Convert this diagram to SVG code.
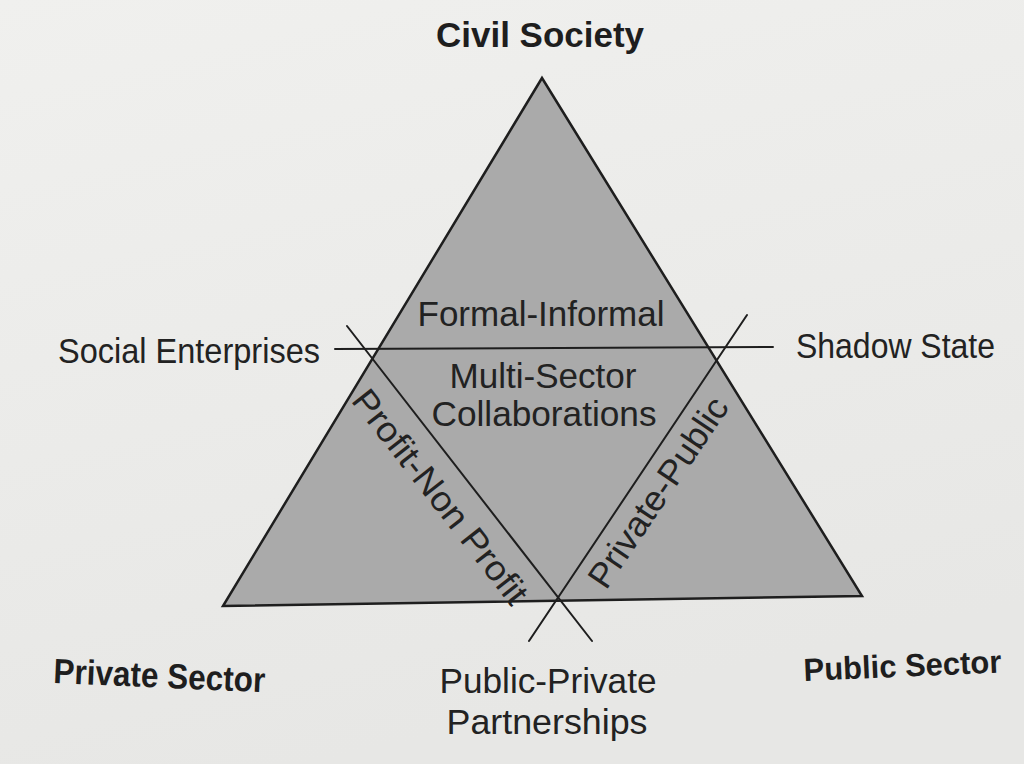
<svg xmlns="http://www.w3.org/2000/svg" width="1024" height="764" viewBox="0 0 1024 764">
  <defs>
    <linearGradient id="bg" x1="0" y1="0" x2="0.3" y2="1">
      <stop offset="0" stop-color="#f0f0ee"/>
      <stop offset="1" stop-color="#e7e7e5"/>
    </linearGradient>
    <style>
      .t { font-family: "Liberation Sans", Arial, Helvetica, sans-serif; font-size: 35px; fill: #222; }
      .b { font-weight: bold; fill: #1e1e1e; }
      .ln { stroke: #1e1e1e; stroke-width: 2; fill: none; stroke-linecap: round; }
    </style>
  </defs>
  <rect width="1024" height="764" fill="url(#bg)"/>

  <g id="triangle">
    <polygon points="542,78 862,596 223,606" fill="#aaaaaa" stroke="#1e1e1e" stroke-width="2.5" stroke-linejoin="miter"/>
  </g>

  <g id="connectors">
    <line class="ln" x1="335" y1="349" x2="773" y2="347"/>
    <line class="ln" x1="347" y1="326" x2="592" y2="641"/>
    <line class="ln" x1="747" y1="315" x2="529" y2="641"/>
  </g>

  <g id="civil-society">
    <text class="t b" x="540" y="47" text-anchor="middle" textLength="208" lengthAdjust="spacingAndGlyphs">Civil Society</text>
  </g>
  <g id="private-sector">
    <text class="t b" x="53" y="683" textLength="212" lengthAdjust="spacingAndGlyphs" transform="rotate(2.5 53 683)">Private Sector</text>
  </g>
  <g id="public-sector">
    <text class="t b" x="804" y="681" font-size="32" style="font-size:32px" textLength="198" lengthAdjust="spacingAndGlyphs" transform="rotate(-2.5 804 681)">Public Sector</text>
  </g>
  <g id="social-enterprises">
    <text class="t" x="58" y="363" textLength="262" lengthAdjust="spacingAndGlyphs">Social Enterprises</text>
  </g>
  <g id="shadow-state">
    <text class="t" x="796" y="358" textLength="199" lengthAdjust="spacingAndGlyphs">Shadow State</text>
  </g>
  <g id="formal-informal">
    <text class="t" x="541" y="326" text-anchor="middle" textLength="247" lengthAdjust="spacingAndGlyphs">Formal-Informal</text>
  </g>
  <g id="multi-sector">
    <text class="t" x="543" y="388" text-anchor="middle" textLength="187" lengthAdjust="spacingAndGlyphs">Multi-Sector</text>
    <text class="t" x="544" y="426" text-anchor="middle" textLength="225" lengthAdjust="spacingAndGlyphs">Collaborations</text>
  </g>
  <g id="profit-non-profit">
    <text class="t" x="431" y="504" text-anchor="middle" textLength="262" lengthAdjust="spacingAndGlyphs" transform="rotate(52 431 504)">Profit-Non Profit</text>
  </g>
  <g id="private-public">
    <text class="t" x="668" y="499" text-anchor="middle" textLength="222" lengthAdjust="spacingAndGlyphs" transform="rotate(-56 668 499)">Private-Public</text>
  </g>
  <g id="public-private-partnerships">
    <text class="t" x="548" y="693" text-anchor="middle" textLength="217" lengthAdjust="spacingAndGlyphs">Public-Private</text>
    <text class="t" x="547" y="734" text-anchor="middle" textLength="201" lengthAdjust="spacingAndGlyphs">Partnerships</text>
  </g>
</svg>
